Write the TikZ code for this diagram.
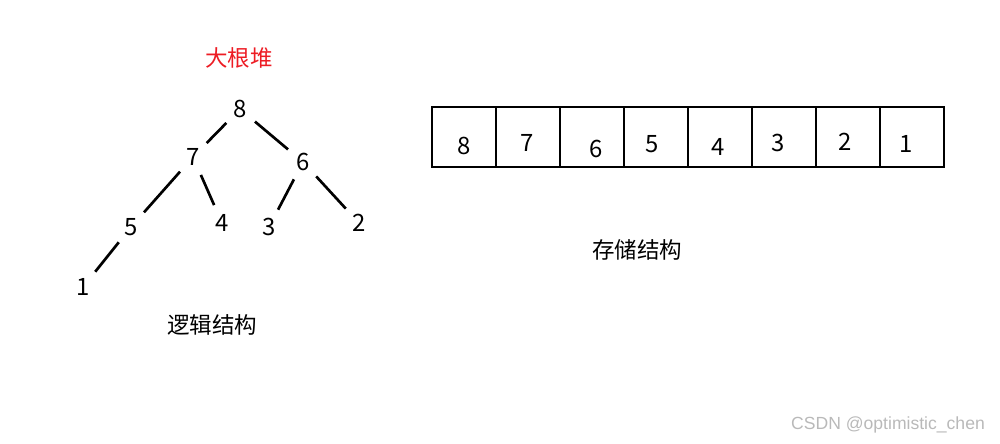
\documentclass[tikz,border=0pt]{standalone}
\usepackage{fontspec}
\usepackage{xcolor}
\newfontfamily\cjk{Noto Sans CJK SC}
\newfontfamily\wmfont{Liberation Sans}
\usetikzlibrary{positioning}
\definecolor{heapred}{RGB}{237,28,36}

\begin{document}
\begin{tikzpicture}[x=0.025cm, y=-0.025cm, thick,
    key/.style={circle, minimum size=0.95cm, inner sep=0pt, font=\cjk\fontsize{17}{20}\selectfont},
    cell/.style={draw, rectangle, minimum width=1.6cm, minimum height=1.5cm, outer sep=0pt, line width=1.4pt},
    cjktext/.style={font=\cjk\fontsize{16}{19}\selectfont},
    branch/.style={line width=1.9pt}]
    \useasboundingbox (0,0) rectangle (1000,443);

    % Nodes
    \node[cjktext, text=heapred] (title) at (239,58) {大根堆};
    \node[key] (n8) at (240,109) {8};
    \node[key] (n7) at (193,157) {7};
    \node[key] (n6) at (303,162) {6};
    \node[key] (n5) at (131,227) {5};
    \node[key] (n4) at (222,223) {4};
    \node[key] (n3) at (269,227) {3};
    \node[key] (n2) at (359,223) {2};
    \node[key] (n1) at (83,287) {1};
    \node[cjktext] (logic) at (212,325) {逻辑结构};

    % Array
    \foreach \v/\x/\y [count=\i] in {8/464/146,7/527/143,6/596/149,5/652/144,4/718/147,3/778/143,2/845/142,1/906/144} {
        \node[cell] (c\i) at ({400+64*\i},137) {};
        \node[key] (d\i) at (\x,\y) {\v};
    }
    \node[cjktext] (store) at (637,250) {存储结构};
    \node[font=\wmfont\fontsize{12.5}{15}\selectfont, text=gray!55] (mark) at (888,425) {CSDN @optimistic\_chen};

    % Connections
    \draw[branch] (n8) -- (n7);
    \draw[branch] (n8) -- (n6);
    \draw[branch] (n7) -- (n5);
    \draw[branch] (n7) -- (n4);
    \draw[branch] (n6) -- (n3);
    \draw[branch] (n6) -- (n2);
    \draw[branch] (n5) -- (n1);
\end{tikzpicture}
\end{document}
